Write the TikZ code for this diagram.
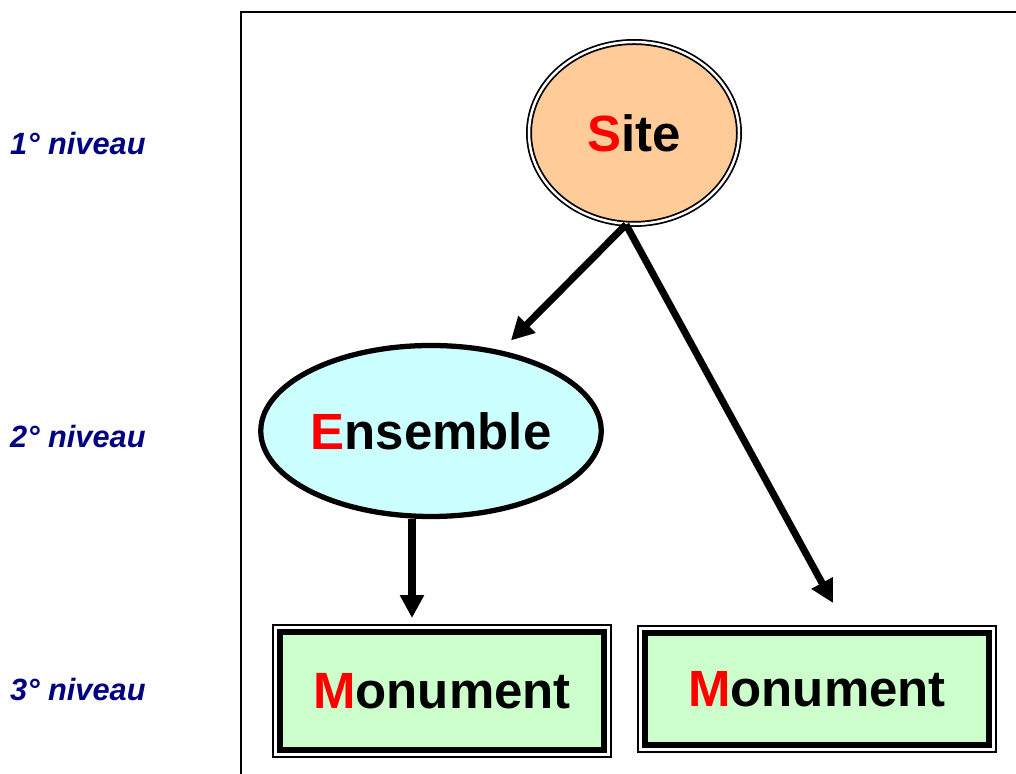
\documentclass[tikz,border=0pt]{standalone}
\usepackage{fontspec}
\setmainfont{Liberation Sans}
\usetikzlibrary{shapes.geometric,arrows.meta}
\definecolor{peach}{HTML}{FFCC99}
\definecolor{skyish}{HTML}{CCFFFF}
\definecolor{mint}{HTML}{CCFFCC}
\definecolor{navy}{HTML}{000080}
\begin{document}
\begin{tikzpicture}[
    arr/.style={line width=4pt,-{Triangle[length=13pt,width=13pt]}},
    lvl/.style={anchor=west,text=navy,font=\bfseries\itshape\fontsize{17.5}{20}\selectfont},
    big/.style={font=\bfseries\fontsize{29}{33}\selectfont},
    mon/.style={big,draw,line width=0.12cm,fill=mint,minimum width=6.48cm,minimum height=2.36cm}
]
    \useasboundingbox (0,0) rectangle (20.32,15.48);
    \draw[line width=0.8pt] (4.82,0) -- (4.82,15.24) -- (20.32,15.24);
    % niveaux
    \node[lvl] (n1) at (0.08,12.6) {1° niveau};
    \node[lvl] (n2) at (0.08,6.74) {2° niveau};
    \node[lvl] (n3) at (0.08,1.68) {3° niveau};
    % noeuds
    \node[big,ellipse,draw,inner sep=0pt,line width=1pt,double=white,double distance=1.4pt,fill=peach,
        minimum width=4.2cm,minimum height=3.64cm] (Site) at (12.68,12.82) {{\color{red}S}ite};
    \node[big,ellipse,draw,inner sep=0pt,line width=3pt,fill=skyish,
        minimum width=6.78cm,minimum height=3.42cm] (Ensemble) at (8.62,6.86) {{\color{red}E}nsemble};
    \node[mon] (M1) at (8.84,1.66) {{\color{red}M}onument};
    \node[mon,minimum width=6.88cm,minimum height=2.24cm] (M2) at (16.34,1.70) {{\color{red}M}onument};
    \draw[line width=0.8pt] ([shift={(-0.08,0.08)}]M1.north west) rectangle ([shift={(0.08,-0.08)}]M1.south east);
    \draw[line width=0.8pt] ([shift={(-0.08,0.08)}]M2.north west) rectangle ([shift={(0.08,-0.08)}]M2.south east);
    % fleches
    \coordinate (tip2) at (16.66,3.42);
    \coordinate (tip3) at (8.24,3.12);
    \draw[arr,shorten >=0.28cm] (Site.-95) -- (Ensemble.49);
    \draw[arr] (Site.-95) -- (tip2);
    \draw[arr] (Ensemble.south -| tip3) -- (tip3);
\end{tikzpicture}
\end{document}
